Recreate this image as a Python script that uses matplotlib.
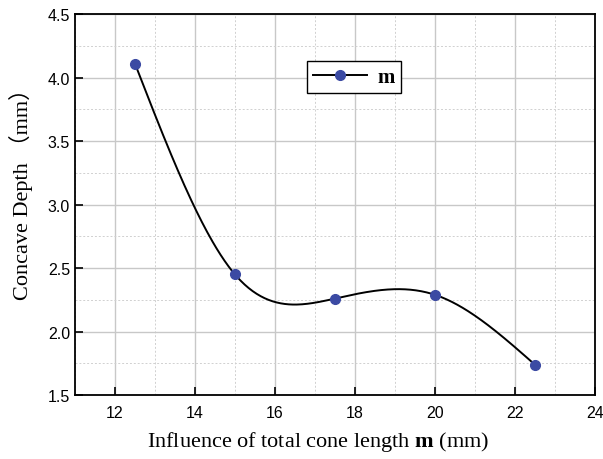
import numpy as np
import matplotlib.pyplot as plt
from matplotlib.ticker import MultipleLocator

plt.rcParams['mathtext.fontset'] = 'custom'
plt.rcParams['mathtext.rm'] = 'Liberation Serif'
plt.rcParams['mathtext.bf'] = 'Liberation Serif:bold'

# data
cone_length = [12.5, 15.0, 17.5, 20.0, 22.5]
concave_depth = [4.11, 2.45, 2.26, 2.29, 1.74]


# natural cubic spline (smooth connecting line, like Origin's spline)
def natural_spline(x, y, n=300):
    x = np.asarray(x, float)
    y = np.asarray(y, float)
    k = len(x)
    h = np.diff(x)
    A = np.zeros((k, k))
    r = np.zeros(k)
    A[0, 0] = A[-1, -1] = 1.0
    for i in range(1, k - 1):
        A[i, i - 1] = h[i - 1]
        A[i, i] = 2 * (h[i - 1] + h[i])
        A[i, i + 1] = h[i]
        r[i] = 6 * ((y[i + 1] - y[i]) / h[i] - (y[i] - y[i - 1]) / h[i - 1])
    M = np.linalg.solve(A, r)
    xs = np.linspace(x[0], x[-1], n)
    idx = np.clip(np.searchsorted(x, xs) - 1, 0, k - 2)
    x0, x1 = x[idx], x[idx + 1]
    hh = x1 - x0
    a = (x1 - xs) / hh
    b = (xs - x0) / hh
    ys = (a * y[idx] + b * y[idx + 1]
          + ((a ** 3 - a) * M[idx] + (b ** 3 - b) * M[idx + 1]) * hh ** 2 / 6)
    return xs, ys


xs, ys = natural_spline(cone_length, concave_depth)

fig = plt.figure(figsize=(6.03, 4.6), dpi=100)
ax = fig.add_axes([0.1244, 0.139, 0.862, 0.828])

blue = '#3B4AA3'
ax.plot(xs, ys, color='black', lw=1.4, zorder=3)
ax.plot(cone_length, concave_depth, 'o', color=blue, ms=7, zorder=4)

# legend proxy
ax.plot([], [], '-o', color='black', mfc=blue, mec=blue, ms=7, lw=1.4, label='m')
leg = ax.legend(loc='center', bbox_to_anchor=(0.537, 0.835), fancybox=False,
                edgecolor='black', framealpha=1, handlelength=2.6,
                prop={'family': 'Liberation Serif', 'weight': 'bold', 'size': 15},
                borderpad=0.3, handletextpad=0.5)
leg.get_frame().set_linewidth(1.0)

ax.set_xlim(11, 24)
ax.set_ylim(1.5, 4.5)
ax.xaxis.set_major_locator(MultipleLocator(2))
ax.xaxis.set_minor_locator(MultipleLocator(1))
ax.yaxis.set_major_locator(MultipleLocator(0.5))
ax.yaxis.set_minor_locator(MultipleLocator(0.25))

ax.grid(which='major', color='#c8c8c8', lw=1.0)
ax.grid(which='minor', color='#d0d0d0', lw=0.7, ls=(0, (2, 2)))
ax.set_axisbelow(True)

ax.tick_params(which='major', direction='in', length=6, width=1.2,
               labelsize=11.5, top=False, right=False)
ax.tick_params(which='minor', length=0)
ax.xaxis.set_major_formatter(plt.FuncFormatter(lambda v, p: f'{v:g}'))
ax.yaxis.set_major_formatter(plt.FuncFormatter(lambda v, p: f'{v:.1f}'))
for lab in ax.get_xticklabels() + ax.get_yticklabels():
    lab.set_family('Liberation Sans')
for s in ax.spines.values():
    s.set_linewidth(1.3)
ax.tick_params(axis='x', pad=7)

ax.set_xlabel(r'Influence of total cone length $\mathbf{m}$ (mm)',
              family='Liberation Serif', fontsize=16)
ax.set_ylabel('Concave Depth （mm）', family=['Liberation Serif', 'Noto Sans CJK SC'],
              fontsize=16)
ax.xaxis.set_label_coords(0.467, -0.09)
ax.yaxis.set_label_coords(-0.08, 0.545)

fig.savefig('out.png', dpi=100)
